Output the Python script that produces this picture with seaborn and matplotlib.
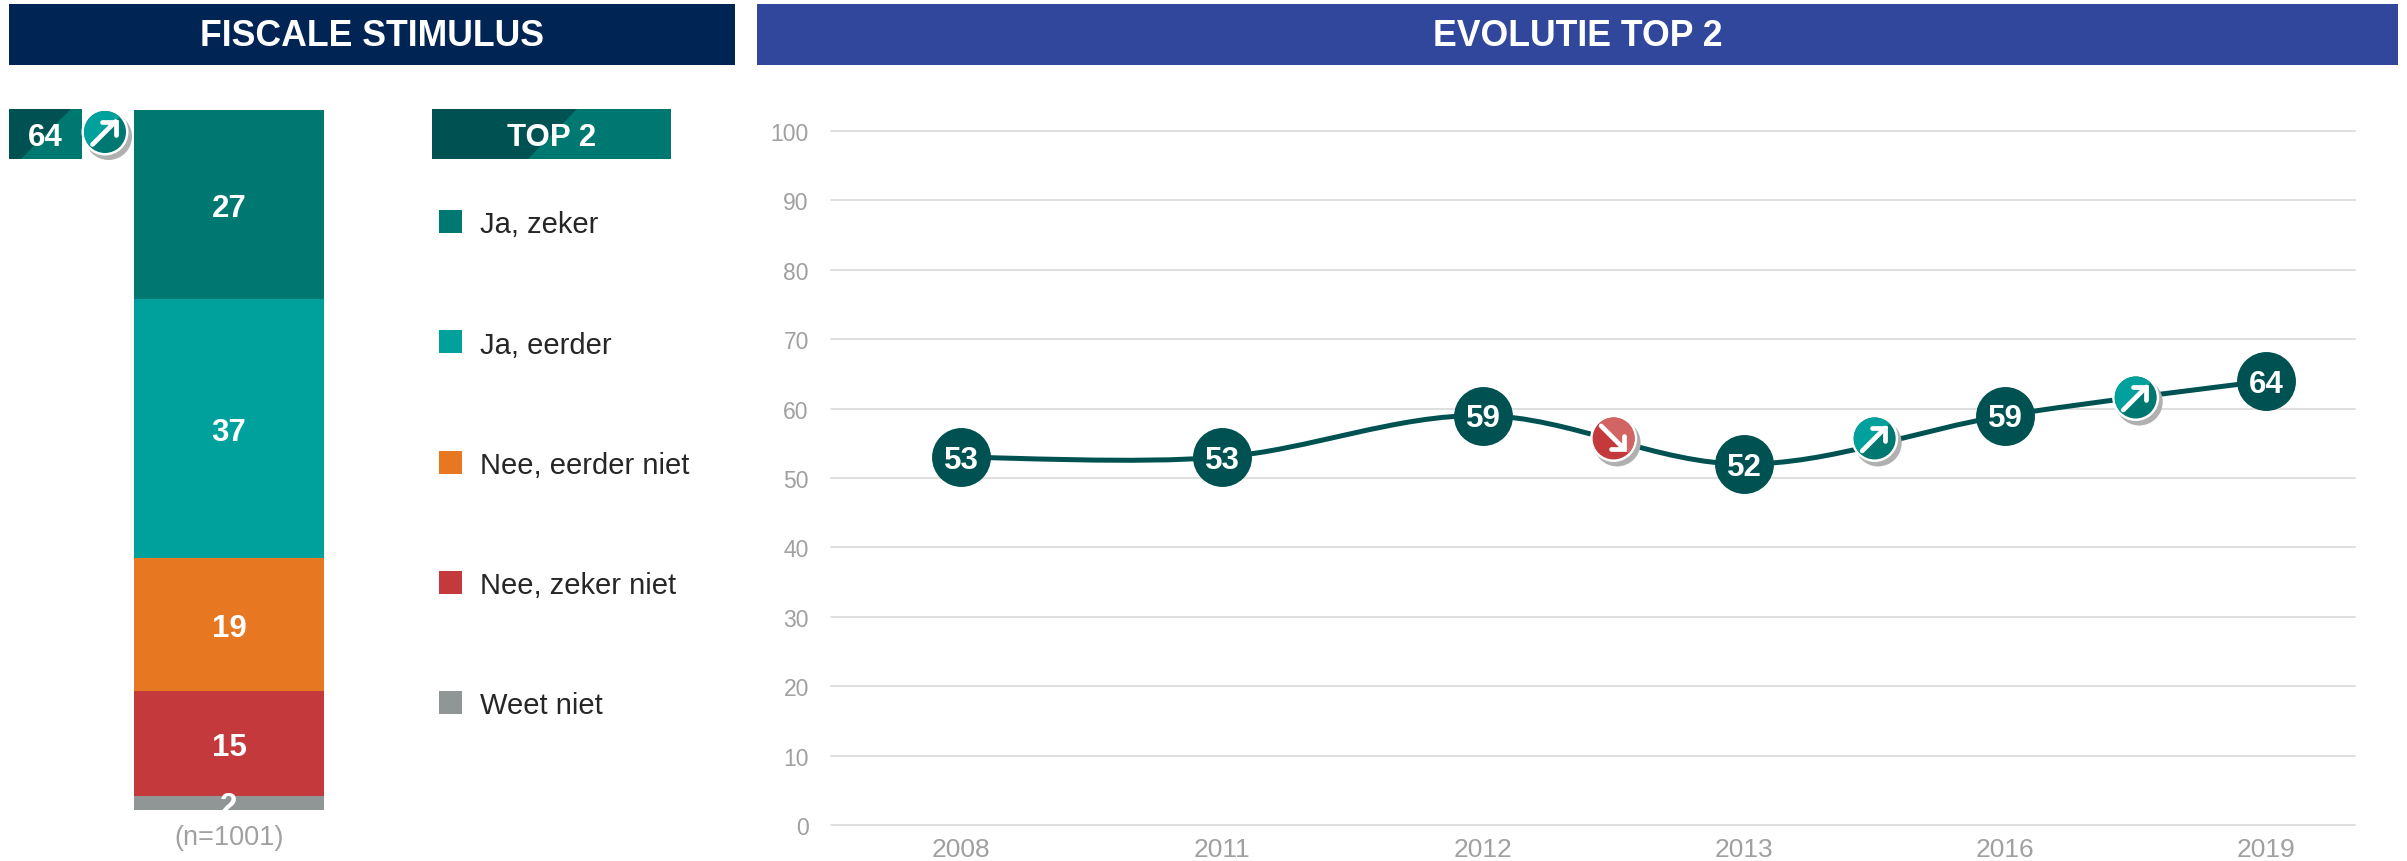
import pandas as pd
import matplotlib
matplotlib.use('Agg')
import matplotlib.pyplot as plt
import seaborn as sns
from matplotlib.patches import Rectangle, Polygon, Circle, Wedge, PathPatch
from matplotlib.path import Path

# data
antwoorden = ['Ja, zeker', 'Ja, eerder', 'Nee, eerder niet', 'Nee, zeker niet', 'Weet niet']
aandeel = [27, 37, 19, 15, 2]
kleuren = ['#007872', '#00A09C', '#E87722', '#C4393B', '#8F9695']

jaren = ['2008', '2011', '2012', '2013', '2016', '2019']
top2 = [53, 53, 59, 52, 59, 64]

# trendpijlen tussen de jaren: positie op de x-as, waarde, richting
pijl_x = [2.5, 3.5, 4.5]
pijl_y = [55.7, 55.7, 61.6]
pijl_richting = ['neer', 'op', 'op']

W, H = 2407, 862
DONKER = '#005252'
GRIJS = '#A0A0A0'


def ax_px(fig, x0, y0, x1, y1):
    """axes op pixelpositie, y van boven naar beneden"""
    return fig.add_axes([x0 / W, 1 - y1 / H, (x1 - x0) / W, (y1 - y0) / H])


def badge(deco, cx, cy, richting, r=21):
    # schaduw, witte rand, tweekleurig vlak en witte pijl
    deco.add_patch(Circle((cx + 3.5, cy + 4.5), r + 2.5, color='#B0B0B0', lw=0, zorder=5))
    deco.add_patch(Circle((cx, cy), r + 2.5, color='white', lw=0, zorder=6))
    if richting == 'op':
        licht, donker, theta = '#00A09C', '#007872', (135, 315)
    else:
        licht, donker, theta = '#D26464', '#C4393B', (225, 405)
    deco.add_patch(Circle((cx, cy), r, color=donker, lw=0, zorder=7))
    deco.add_patch(Wedge((cx, cy), r, theta[0], theta[1], color=licht, lw=0, zorder=8))
    d = 0.5 * r
    kop = 0.62 * r
    if richting == 'op':
        punt = (cx + d, cy - d)
        staart = (cx - d - 2, cy + d + 2)
        poot1 = (punt[0] - kop, punt[1])
        poot2 = (punt[0], punt[1] + kop)
    else:
        punt = (cx + d, cy + d)
        staart = (cx - d - 2, cy - d - 2)
        poot1 = (punt[0] - kop, punt[1])
        poot2 = (punt[0], punt[1] - kop)
    lijn = dict(color='white', lw=3.4, solid_capstyle='round', solid_joinstyle='miter', zorder=9)
    deco.plot([staart[0], punt[0]], [staart[1], punt[1]], **lijn)
    deco.plot([poot1[0], punt[0], poot2[0]], [poot1[1], punt[1], poot2[1]], **lijn)


def tweekleurig_vak(deco, x0, y0, x1, y1, x_boven, x_onder, tekst):
    deco.add_patch(Rectangle((x0, y0), x1 - x0, y1 - y0, color='#007872', lw=0, zorder=3))
    deco.add_patch(Polygon([(x0, y0), (x_boven, y0), (x_onder, y1), (x0, y1)], color=DONKER, lw=0, zorder=4))
    deco.text((x0 + x1) / 2, (y0 + y1) / 2 + 3, tekst, color='white', fontsize=22.5, fontweight='bold',
              ha='center', va='center', zorder=5)


def gladde_lijn(ax, xs, ys):
    # zelfde soort afronding als een "smooth line" in Excel: bezier door de meetpunten
    verts = [(xs[0], ys[0])]
    codes = [Path.MOVETO]
    n = len(xs)
    for i in range(n - 1):
        a = max(i - 1, 0)
        b = min(i + 2, n - 1)
        verts.append((xs[i] + (xs[i + 1] - xs[a]) / 6, ys[i] + (ys[i + 1] - ys[a]) / 6))
        verts.append((xs[i + 1] - (xs[b] - xs[i]) / 6, ys[i + 1] - (ys[b] - ys[i]) / 6))
        verts.append((xs[i + 1], ys[i + 1]))
        codes += [Path.CURVE4, Path.CURVE4, Path.CURVE4]
    ax.add_patch(PathPatch(Path(verts, codes), fill=False, edgecolor=DONKER, lw=3.6, zorder=3))


def main():
    sns.set_theme(style='white')
    plt.rcParams['font.family'] = ['Liberation Sans', 'DejaVu Sans']

    fig = plt.figure(figsize=(W / 100, H / 100), dpi=100, facecolor='white')

    # gestapelde balk: cumulatief tekenen, grootste eerst
    df = pd.DataFrame({'antwoord': antwoorden, 'aandeel': aandeel, 'kleur': kleuren})
    df['cum'] = df['aandeel'].cumsum()
    ax1 = ax_px(fig, 134, 111, 324, 811)
    for _, rij in df.iloc[::-1].iterrows():
        sns.barplot(x=['x'], y=[rij['cum']], color=rij['kleur'], saturation=1, width=1, ax=ax1, linewidth=0)
        ax1.annotate(str(rij['aandeel']), (0, rij['cum'] - rij['aandeel'] / 2), xytext=(0, -2.2),
                     textcoords='offset points', color='white', fontsize=22.5, fontweight='bold',
                     ha='center', va='center', zorder=5)
    ax1.set_xlim(-0.5, 0.5)
    ax1.set_ylim(100, 0)
    ax1.axis('off')

    # lijngrafiek
    ax2 = ax_px(fig, 831, 132, 2355, 826)
    ev = pd.DataFrame({'jaar': jaren, 'top2': top2})
    sns.scatterplot(data=ev, x='jaar', y='top2', s=1800, color=DONKER, linewidth=0, zorder=4, clip_on=False, ax=ax2)
    gladde_lijn(ax2, list(range(len(top2))), top2)
    for i, w in enumerate(top2):
        ax2.annotate(str(w), (i, w), xytext=(0, -2), textcoords='offset points', color='white',
                     fontsize=22.5, fontweight='bold', ha='center', va='center', zorder=5)
    ax2.set_xlim(-0.498, 5.34)
    ax2.set_ylim(0, 100)
    ax2.set_yticks(range(0, 101, 10))
    ax2.set_xlabel('')
    ax2.set_ylabel('')
    ax2.grid(axis='y', color='#DCDCDC', lw=1.3)
    for g in ax2.get_ygridlines():
        g.set_clip_on(False)
    sns.despine(ax=ax2, left=True, bottom=True)
    ax2.tick_params(axis='y', length=0, pad=16, labelsize=16.5, labelcolor=GRIJS)
    ax2.tick_params(axis='x', length=0, pad=9, labelsize=19, labelcolor=GRIJS)

    # alles wat geen as heeft: koppen, legenda, badges (in pixels)
    deco = fig.add_axes([0, 0, 1, 1], zorder=10)
    deco.set_xlim(0, W)
    deco.set_ylim(H, 0)
    deco.axis('off')

    deco.add_patch(Rectangle((9, 5), 726, 61, color='#002554', lw=0))
    deco.text(372, 36, 'FISCALE STIMULUS', color='white', fontsize=25.7, fontweight='bold', ha='center', va='center')
    deco.add_patch(Rectangle((757, 5), 1641, 61, color='#30479B', lw=0))
    deco.text(1578, 36, 'EVOLUTIE TOP 2', color='white', fontsize=25.7, fontweight='bold', ha='center', va='center')

    tweekleurig_vak(deco, 9, 110, 82, 160, 71, 21, '64')
    badge(deco, 105, 133, 'op', r=21)
    tweekleurig_vak(deco, 432, 110, 671, 160, 577, 528, 'TOP 2')

    for i, (naam, kleur) in enumerate(zip(antwoorden, kleuren)):
        y = 222.5 + 120.25 * i
        deco.add_patch(Rectangle((439, y - 11.5), 23, 23, color=kleur, lw=0))
        deco.text(480, y + 3, naam, color='#262626', fontsize=21, ha='left', va='center')

    deco.text(229, 838, '(n=1001)', color=GRIJS, fontsize=19.5, ha='center', va='center')

    for x, y, richting in zip(pijl_x, pijl_y, pijl_richting):
        px = ax2.transData.transform((x, y))
        cx, cy = deco.transData.inverted().transform(px)
        badge(deco, cx, cy, richting)

    fig.savefig('out.png', dpi=100)
    plt.close(fig)


if __name__ == '__main__':
    main()
